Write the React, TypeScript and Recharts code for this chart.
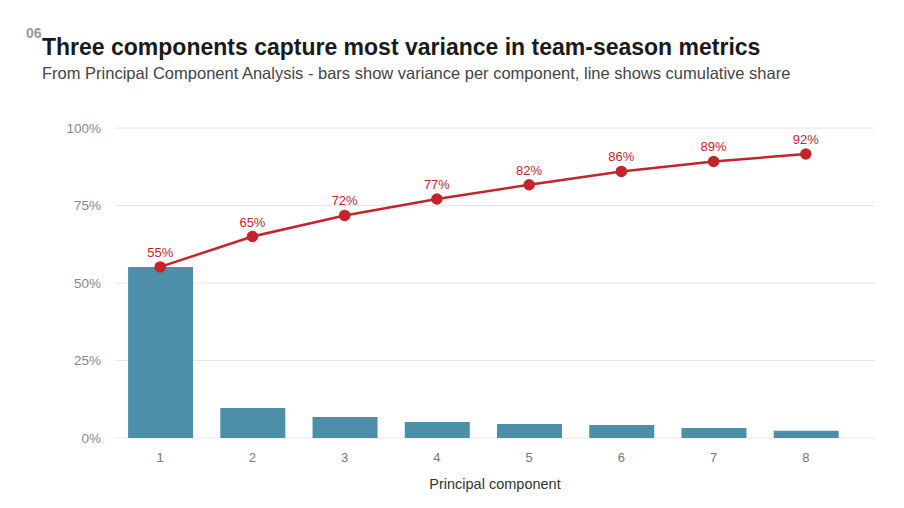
import { ComposedChart, Bar, Line, XAxis, YAxis, CartesianGrid, LabelList } from "recharts";

const components = [1, 2, 3, 4, 5, 6, 7, 8];
const variance = [55.2, 9.7, 6.8, 5.2, 4.5, 4.2, 3.2, 2.3];
const cumulative = [55.2, 65.0, 71.8, 77.1, 81.7, 86.0, 89.2, 91.6];
const yTicks = [0, 25, 50, 75, 100];

const data = components.map((c, i) => ({ pc: c, variance: variance[i], cumulative: cumulative[i] }));

export default function App() {
  return (
    <div style={{ position: "absolute", left: 0, top: 0, width: 904, height: 508, background: "#fff", fontFamily: "'Liberation Sans', Arial, sans-serif" }}>
      <div style={{ position: "absolute", left: 26, top: 25, fontSize: 14, fontWeight: 700, color: "#999" }}>06</div>
      <div style={{ position: "absolute", left: 42, top: 34, fontSize: 23, fontWeight: 700, color: "#1a1a1a" }}>
        Three components capture most variance in team-season metrics
      </div>
      <div style={{ position: "absolute", left: 42, top: 64, fontSize: 16.5, color: "#444" }}>
        From Principal Component Analysis - bars show variance per component, line shows cumulative share
      </div>
      <div style={{ position: "absolute", left: 0, top: 0 }}>
        <ComposedChart width={904} height={508} data={data} margin={{ top: 128, right: 29, bottom: 40, left: 0 }}>
          <CartesianGrid horizontal vertical={false} stroke="#e6e6e6" />
          <XAxis
            dataKey="pc"
            type="number"
            domain={[0.51, 8.75]}
            ticks={components}
            axisLine={false}
            tickLine={false}
            tick={{ fill: "#777", fontSize: 13 }}
            tickMargin={9}
            label={{ value: "Principal component", position: "insideBottom", offset: -21, fill: "#333", fontSize: 14.5 }}
          />
          <YAxis
            type="number"
            domain={[0, 100]}
            ticks={yTicks}
            width={115}
            axisLine={false}
            tickLine={false}
            tick={{ fill: "#888", fontSize: 13.5 }}
            tickFormatter={(v: number) => `${v}%`}
            tickMargin={8}
          />
          <Bar dataKey="variance" fill="#4d8fa8" barSize={65} isAnimationActive={false} />
          <Line
            dataKey="cumulative"
            stroke="#c4242b"
            strokeWidth={2.5}
            dot={{ r: 4.5, fill: "#c4242b", stroke: "#c4242b" }}
            isAnimationActive={false}
          >
            <LabelList
              dataKey="cumulative"
              position="top"
              offset={10}
              fill="#c4242b"
              fontSize={13}
              formatter={(v: number) => `${Math.round(v)}%`}
            />
          </Line>
        </ComposedChart>
      </div>
    </div>
  );
}
